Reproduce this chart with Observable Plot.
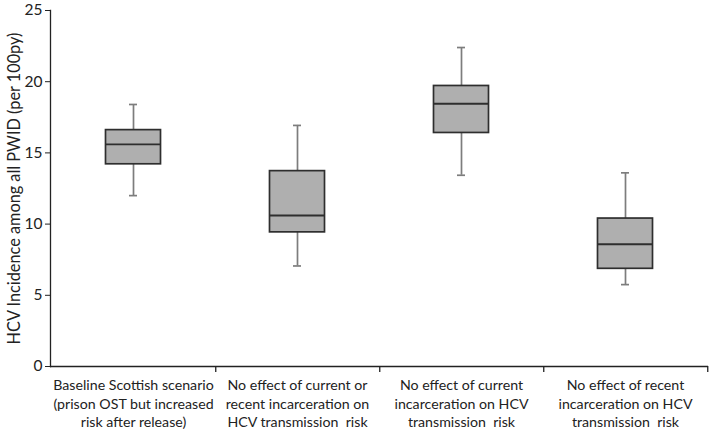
<!DOCTYPE html>
<html><head><meta charset="utf-8">
<script src="https://cdn.jsdelivr.net/npm/d3@7"></script>
<script src="https://cdn.jsdelivr.net/npm/@observablehq/plot@0.6"></script>
<style>body{margin:0;background:#fff}</style>
</head><body><div id="chart"></div>
<script>
const categories = [
  "Baseline Scottish scenario\n(prison OST but increased\nrisk after release)",
  "No effect of current or\nrecent incarceration on\nHCV transmission  risk",
  "No effect of current\nincarceration on HCV\ntransmission  risk",
  "No effect of recent\nincarceration on HCV\ntransmission  risk"
];
const whiskerLow = [12.0, 7.06, 13.43, 5.75];
const quartile1 = [14.2, 9.42, 16.4, 6.86];
const medians = [15.6, 10.6, 18.45, 8.59];
const quartile3 = [16.6, 13.72, 19.7, 10.39];
const whiskerHigh = [18.4, 16.93, 22.4, 13.6];
const yTicks = [0, 5, 10, 15, 20, 25];
const yLabel = "HCV Incidence among all PWID (per 100py)";

const rows = categories.map((c, i) => ({
  cat: c, lo: whiskerLow[i], q1: quartile1[i], med: medians[i], q3: quartile3[i], hi: whiskerHigh[i]
}));

const whisk = {stroke: "#7d7d7d", strokeWidth: 1.7};
const boxStroke = "#2e2e2e";

const chart = Plot.plot({
  width: 709, height: 431,
  marginLeft: 50, marginRight: 1, marginTop: 10, marginBottom: 65,
  style: {fontFamily: "Lato, sans-serif", color: "#222", background: "#fff"},
  x: {domain: categories, padding: 0},
  y: {domain: [0, 25]},
  marks: [
    Plot.ruleX(rows, {x: "cat", y1: "lo", y2: "hi", ...whisk}),
    Plot.tickY(rows, {x: "cat", y: "lo", insetLeft: 78, insetRight: 78, ...whisk}),
    Plot.tickY(rows, {x: "cat", y: "hi", insetLeft: 78, insetRight: 78, ...whisk}),
    Plot.barY(rows, {x: "cat", y1: "q1", y2: "q3", fill: "#afafaf", stroke: boxStroke, strokeWidth: 1.7, insetLeft: 54.5, insetRight: 54.5}),
    Plot.tickY(rows, {x: "cat", y: "med", stroke: boxStroke, strokeWidth: 1.9, insetLeft: 54.5, insetRight: 54.5}),
    Plot.axisY({ticks: yTicks, tickSize: 5, tickPadding: 3, fontSize: 15.5, label: null}),
    Plot.text([yLabel], {frameAnchor: "left", rotate: -90, dx: -36, fontSize: 16.3, textAnchor: "middle", fill: "#222"}),
    Plot.axisX({tickSize: 0, tickPadding: 11, fontSize: 14.2, lineHeight: 1.28, label: null}),
    Plot.ruleY([0], {stroke: "#222", strokeWidth: 1.3}),
    Plot.frame({anchor: "left", stroke: "#222", strokeWidth: 1.3}),
    Plot.ruleX(categories, {y1: 0, y2: 0, dx: 82.25, dy: 3, insetTop: -3, insetBottom: -3, stroke: "#222", strokeWidth: 1.3})
  ]
});
document.getElementById("chart").appendChild(chart);
</script>
</body></html>
